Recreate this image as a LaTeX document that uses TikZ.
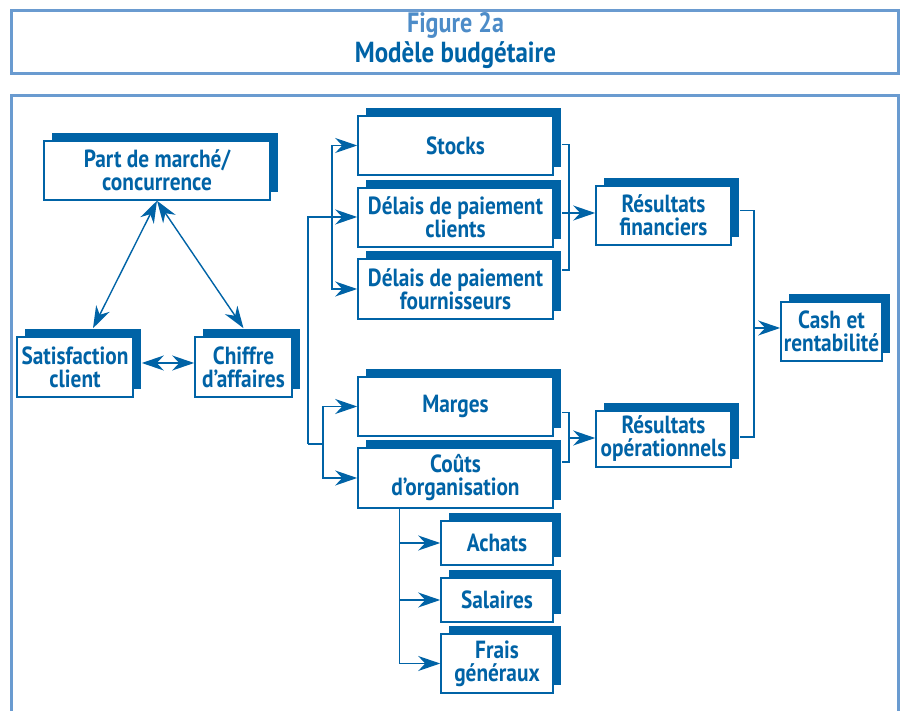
\documentclass[tikz,border=0pt]{standalone}
\usepackage{fontspec}
\setmainfont{PT Sans}[FakeStretch=0.86]
\usetikzlibrary{arrows.meta, shadows, calc}
\definecolor{dblue}{HTML}{0063A6}
\definecolor{fblue}{HTML}{6A9BD0}
\definecolor{tblue}{HTML}{4D8CC8}

\begin{document}
\begin{tikzpicture}[x=.5pt, y=-.5pt,
  box/.style={draw=dblue, fill=white, line width=.8pt, text=dblue, align=center, inner sep=0pt,
    font=\bfseries\fontsize{12.4}{11.5}\selectfont,
    drop shadow={shadow xshift=4pt, shadow yshift=4pt, fill=dblue, opacity=1}},
  link/.style={draw=dblue, line width=.7pt},
  tip/.style={-{Stealth[length=11pt, width=7.5pt, inset=3.5pt]}},
  both/.style={{Stealth[length=11pt, width=7.5pt, inset=3.5pt]}-{Stealth[length=11pt, width=7.5pt, inset=3.5pt]}}]
  \useasboundingbox (0, 0) rectangle (901, 711);
  \draw [fblue, line width=1.5pt] (11.5, 10.5) rectangle (898.5, 74);
  \draw [fblue, line width=1.5pt] (11.5, 740) -- (11.5, 95.5) -- (898.5, 95.5) -- (898.5, 740);
  \node [text=tblue, font=\bfseries\fontsize{14}{16}\selectfont] (fig) at (455.5, 25) {Figure 2a};
  \node [text=dblue, font=\bfseries\fontsize{14.5}{16}\selectfont] (titre) at (455.5, 55) {Modèle budgétaire};

  \node [box, minimum width=113pt, minimum height=29.5pt] (part) at (157, 170.5) {Part de marché/\\concurrence};
  \node [box, minimum width=58pt, minimum height=30pt] (sat) at (75, 367) {Satisfaction\\client};
  \node [box, minimum width=48.5pt, minimum height=30pt] (ca) at (243.5, 367) {Chiffre\\d'affaires};
  \node [box, minimum width=97.5pt, minimum height=29.5pt] (stocks) at (455.5, 145.5) {Stocks};
  \node [box, minimum width=97.5pt, minimum height=29.5pt] (dpc) at (455.5, 217.5) {Délais de paiement\\clients};
  \node [box, minimum width=97.5pt, minimum height=30pt] (dpf) at (455.5, 289) {Délais de paiement\\fournisseurs};
  \node [box, minimum width=97.5pt, minimum height=29.5pt] (marges) at (455.5, 406.5) {Marges};
  \node [box, minimum width=97.5pt, minimum height=30pt] (couts) at (455.5, 478) {Coûts\\d'organisation};
  \node [box, minimum width=56pt, minimum height=22pt] (achats) at (497, 543) {Achats};
  \node [box, minimum width=56pt, minimum height=22pt] (salaires) at (497, 600) {Salaires};
  \node [box, minimum width=56pt, minimum height=29.5pt] (frais) at (497, 663.5) {Frais\\généraux};
  \node [box, minimum width=67.5pt, minimum height=29.5pt] (rfin) at (663.5, 215.5) {Résultats\\financiers};
  \node [box, minimum width=67.5pt, minimum height=28pt] (rop) at (663.5, 439) {Résultats\\opérationnels};
  \node [box, minimum width=50.5pt, minimum height=29.5pt] (cash) at (831.5, 331.5) {Cash et\\rentabilité};

  \coordinate (bus1) at (308, 217);
  \coordinate (bus2) at (308, 444);
  \coordinate (fork1) at (332, 217);
  \coordinate (fork2) at (323, 444);
  \coordinate (m1) at (569, 213);
  \coordinate (m2) at (569, 438);
  \coordinate (m3) at (754, 328);
  \coordinate (t0) at ([xshift=-28pt]couts.south);

  \draw [link, both] (part.south) -- ($(sat.north)+(18, -8)$);
  \draw [link, both] (part.south) -- ($(ca.north)+(0, -8)$);
  \draw [link, both] ($(sat.east)+(8, -4)$) -- (ca.west |- {$(sat.east)+(8, -4)$});

  \draw [link] (bus2) -- (bus1) -- (fork1);
  \draw [link, tip] (fork1) |- (stocks.west);
  \draw [link, tip] (fork1) -- (dpc.west |- fork1);
  \draw [link, tip] (fork1) |- (dpf.west);
  \draw [link] (bus2) -- (fork2);
  \draw [link, tip] (fork2) |- (marges.west);
  \draw [link, tip] (fork2) |- (couts.west);

  \draw [link] ([xshift=4pt, yshift=.5pt]stocks.east) -| (m1);
  \draw [link] ([xshift=4pt, yshift=9.5pt]dpf.east) -| (m1);
  \draw [link, tip] ([xshift=4pt]dpc.east |- m1) -- (rfin.west |- m1);
  \draw [link] ([xshift=4pt, yshift=-3pt]marges.east) -| (m2);
  \draw [link] ([xshift=4pt, yshift=8pt]couts.east) -| (m2);
  \draw [link, tip] (m2) -- (rop.west |- m2);
  \draw [link] ([xshift=4pt, yshift=2.5pt]rfin.east) -| (m3);
  \draw [link] ([xshift=4pt, yshift=1pt]rop.east) -| (m3);
  \draw [link, tip] (m3) -- (cash.west |- m3);

  \draw [link, tip] (t0) |- (achats.west);
  \draw [link, tip] (t0) |- (salaires.west);
  \draw [link, tip] (t0) |- (frais.west);
\end{tikzpicture}
\end{document}
